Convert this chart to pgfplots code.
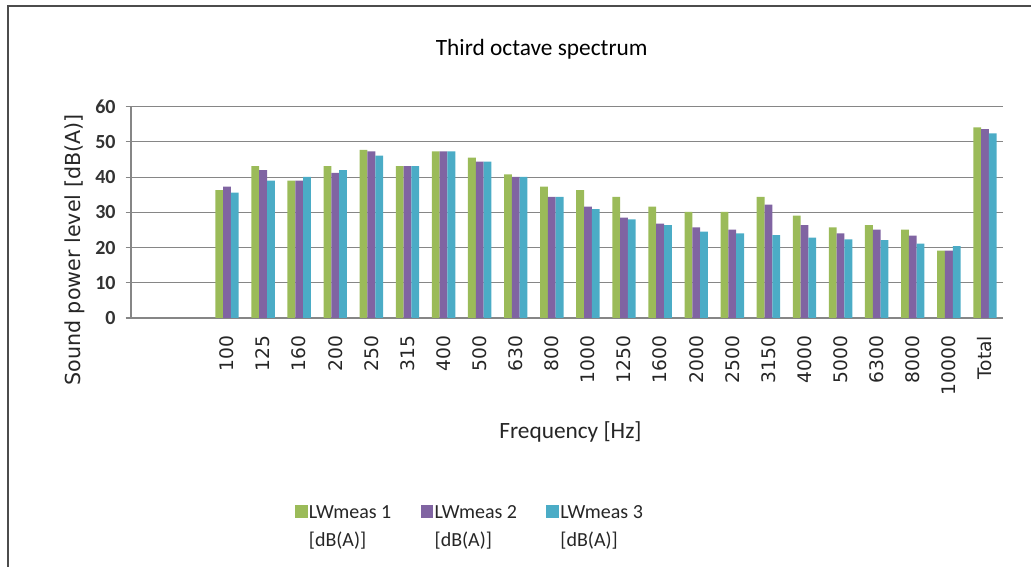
\documentclass[border=0pt]{standalone}
\usepackage{pgfplots}
\usepackage{pgfplotstable}
\pgfplotsset{compat=1.18}
\usepackage{fontspec}
\setmainfont{Carlito}
\newfontfamily\dejavu{DejaVu Sans}
\definecolor{cg}{HTML}{9BBB59}
\definecolor{cp}{HTML}{8064A2}
\definecolor{cb}{HTML}{4BACC6}
\definecolor{gridgray}{HTML}{868686}

\pgfplotstableread{
x lwa lwb lwc
0 36.3 37.3 35.6
1 43.1 42.0 39.0
2 39.0 39.0 40.1
3 43.1 41.2 42.0
4 47.7 47.3 46.1
5 43.1 43.1 43.1
6 47.3 47.3 47.3
7 45.5 44.4 44.4
8 40.8 40.1 40.1
9 37.3 34.4 34.4
10 36.3 31.6 30.9
11 34.4 28.5 28.0
12 31.6 26.8 26.4
13 30.1 25.7 24.5
14 30.1 25.1 24.0
15 34.4 32.2 23.5
16 29.1 26.4 22.8
17 25.7 24.0 22.3
18 26.4 25.1 22.1
19 25.1 23.4 21.1
20 19.1 19.1 20.4
21 54.1 53.6 52.4
}\spectrum

\begin{document}
\begin{tikzpicture}
\useasboundingbox (0,0) rectangle (773.25pt,425.25pt);
\draw[line width=1.4pt, black!70] (6pt,-2pt) -- (6pt,420.75pt) -- (775pt,420.75pt);
\begin{axis}[
  at={(98.25pt,186.75pt)}, anchor=south west,
  scale only axis, width=654pt, height=158.5pt,
  ybar=0pt, bar width=5.85pt,
  xmin=-2.66, xmax=21.5, ymin=0, ymax=60,
  ytick={0,10,...,60},
  xtick={0,...,21},
  xticklabels={100,125,160,200,250,315,400,500,630,800,1000,1250,1600,2000,2500,3150,4000,5000,6300,8000,10000,Total},
  axis x line*=bottom, axis y line*=left,
  ymajorgrids, grid style={gridgray, line width=0.8pt},
  axis line style={gridgray, line width=0.8pt},
  tick align=outside, major tick length=4pt,
  xtick style={draw=none},
  ytick style={gridgray, line width=0.8pt},
  /pgf/number format/assume math mode=true,
  yticklabel style={font=\bfseries\fontsize{15}{15}\selectfont, text=black!80, xshift=-4pt},
  xticklabel style={rotate=90, anchor=east, font=\dejavu\fontsize{14}{14}\selectfont, text=black!85},
  xticklabel shift=6pt,
  title={Third octave spectrum},
  title style={at={(axis description cs:0.471,1.235)}, anchor=center, font=\fontsize{17.5}{18}\selectfont},
  xlabel={Frequency [Hz]},
  xlabel style={at={(axis description cs:0.504,-0.54)}, anchor=center, font=\fontsize{17.5}{18}\selectfont, text=black!85},
  ylabel={Sound power level [dB(A)]},
  ylabel style={at={(axis description cs:-0.064,0.322)}, anchor=center, font=\dejavu\fontsize{15.5}{16}\selectfont, text=black!85},
  legend columns=3,
  legend cell align=left,
  legend image code/.code={\fill[#1] (0pt,-6.5pt) rectangle (9.5pt,3pt);},
  legend style={draw=none, at={(axis description cs:0.389,-0.828)}, anchor=north,
    font=\fontsize{15}{21}\selectfont, text=black!85,
    /tikz/every even column/.append style={column sep=20pt},
    /tikz/every odd column/.append style={column sep=-1pt}},
]
\addplot[fill=cg, draw=none] table[x=x, y=lwa] {\spectrum};
\addlegendentry{\begin{tabular}[t]{@{}l@{}}LWmeas 1\\ {[dB(A)]}\end{tabular}}
\addplot[fill=cp, draw=none] table[x=x, y=lwb] {\spectrum};
\addlegendentry{\begin{tabular}[t]{@{}l@{}}LWmeas 2\\ {[dB(A)]}\end{tabular}}
\addplot[fill=cb, draw=none] table[x=x, y=lwc] {\spectrum};
\addlegendentry{\begin{tabular}[t]{@{}l@{}}LWmeas 3\\ {[dB(A)]}\end{tabular}}
\end{axis}
\end{tikzpicture}
\end{document}
